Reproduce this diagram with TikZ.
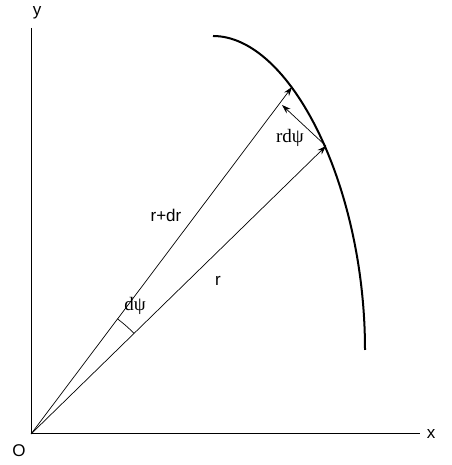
\documentclass[tikz,border=0pt]{standalone}
\usepackage{fontspec}
\setmainfont{Liberation Sans}
\newfontfamily\serifgrk{Liberation Serif}
\usetikzlibrary{arrows.meta}
\begin{document}
\begin{tikzpicture}[x=1pt,y=1pt,
  axis/.style={line width=1pt},
  vec/.style={line width=0.7pt,-{Stealth[length=9pt,width=6pt]}},
  curve/.style={line width=2pt},
  lbl/.style={inner sep=0pt,font=\fontsize{17}{17}\selectfont},
  slbl/.style={inner sep=0pt,font=\fontsize{19}{19}\selectfont\serifgrk}]
\useasboundingbox (0,0) rectangle (451,465);
\coordinate (O) at (31,31);
\coordinate (Ytop) at (31,437);
\coordinate (Xend) at (420,31);
\coordinate (P) at (326,319);
\coordinate (Q) at (292,378);
\coordinate (R) at (282,360);
\coordinate (Cs) at (213,429);
\coordinate (Ce) at (365,115);
\draw[axis] (Ytop) -- (O) -- (Xend);
\draw[curve] (Cs) .. controls (290,429) and (365,280) .. (Ce);
\draw[vec] (O) -- (P);
\draw[vec] (O) -- (Q);
\draw[vec] (P) -- (R);
\draw[line width=0.7pt] (O) ++(44.3:144) arc[start angle=44.3,end angle=53.05,radius=144];
\node[lbl] (ylab) at (37,452) {y};
\node[lbl] (xlab) at (431,31) {x};
\node[lbl] (olab) at (19,14) {O};
\node[lbl] (rdr) at (166,250) {r+dr};
\node[lbl] (rlab) at (218,184) {r};
\node[slbl] (dpsi) at (135,159) {dψ};
\node[slbl] (rdpsi) at (290,327) {rdψ};
\end{tikzpicture}
\end{document}
